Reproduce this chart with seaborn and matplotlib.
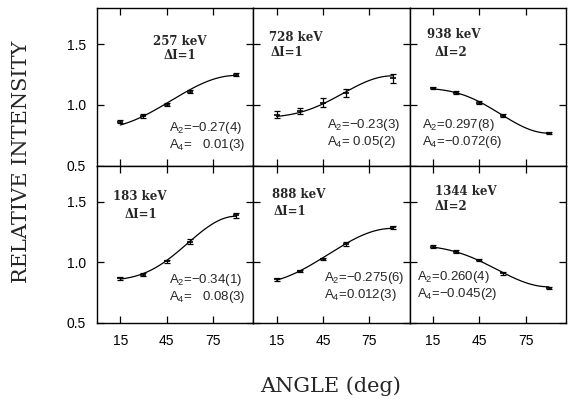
import numpy as np
import pandas as pd
import matplotlib
matplotlib.use("Agg")
import matplotlib.pyplot as plt
import seaborn as sns

# ---- data ----
angles = [15, 30, 45, 60, 90]
energies = ["257 keV", "728 keV", "938 keV", "183 keV", "888 keV", "1344 keV"]
delta_i = ["ΔI=1", "ΔI=1", "ΔI=2", "ΔI=1", "ΔI=1", "ΔI=2"]
y_257 = [0.86, 0.91, 1.00, 1.11, 1.25]
y_728 = [0.92, 0.95, 1.02, 1.10, 1.22]
y_938 = [1.14, 1.10, 1.02, 0.91, 0.77]
y_183 = [0.87, 0.90, 1.01, 1.17, 1.39]
y_888 = [0.86, 0.93, 1.03, 1.15, 1.29]
y_1344 = [1.13, 1.09, 1.02, 0.91, 0.79]
e_257 = [0.012, 0.018, 0.012, 0.012, 0.015]
e_728 = [0.03, 0.025, 0.035, 0.035, 0.035]
e_938 = [0.012, 0.012, 0.01, 0.012, 0.01]
e_183 = [0.012, 0.015, 0.012, 0.02, 0.02]
e_888 = [0.01, 0.01, 0.01, 0.015, 0.012]
e_1344 = [0.01, 0.01, 0.01, 0.01, 0.008]
a2_vals = [-0.27, -0.23, 0.297, -0.34, -0.275, 0.260]
a4_vals = [0.01, 0.05, -0.072, 0.08, 0.012, -0.045]
a2_text = ["A$_2$=−0.27(4)", "A$_2$=−0.23(3)", "A$_2$=0.297(8)",
           "A$_2$=−0.34(1)", "A$_2$=−0.275(6)", "A$_2$=0.260(4)"]
a4_text = ["A$_4$=   0.01(3)", "A$_4$= 0.05(2)", "A$_4$=−0.072(6)",
           "A$_4$=   0.08(3)", "A$_4$=0.012(3)", "A$_4$=−0.045(2)"]
x_ticks = [15, 45, 75]
y_ticks = [0.5, 1.0, 1.5]
y_tick_labels = ["0.5", "1.0", "1.5"]

ys = [y_257, y_728, y_938, y_183, y_888, y_1344]
es = [e_257, e_728, e_938, e_183, e_888, e_1344]

sns.set_theme(style="ticks")
plt.rcParams["font.family"] = ["Liberation Sans", "DejaVu Sans"]
plt.rcParams["mathtext.fontset"] = "custom"
plt.rcParams["mathtext.rm"] = "Liberation Sans"
plt.rcParams["mathtext.it"] = "Liberation Sans"

fig = plt.figure(figsize=(5.68, 3.99), dpi=100)
left, right, top, bottom = 97/568, 566/568, 1-8/399, 1-323/399
gs = fig.add_gridspec(2, 3, left=left, right=right, top=top, bottom=bottom,
                      wspace=0, hspace=0)

# label positions (axes fraction) for each panel
lab_pos = [(0.53, 0.785, "center"), (0.10, 0.81, "left"), (0.11, 0.83, "left"),
           (0.10, 0.80, "left"), (0.12, 0.815, "left"), (0.16, 0.834, "left")]
di_pos = [(0.53, 0.70, "center"), (0.11, 0.715, "left"), (0.157, 0.715, "left"),
          (0.176, 0.69, "left"), (0.127, 0.707, "left"), (0.16, 0.74, "left")]
a_pos = [(0.46, 0.24), (0.47, 0.26), (0.078, 0.26), (0.46, 0.274), (0.45, 0.287),
         (0.046, 0.293)]


def P2(c):
    return 0.5 * (3 * c**2 - 1)


def P4(c):
    return (35 * c**4 - 30 * c**2 + 3) / 8


for i in range(6):
    ax = fig.add_subplot(gs[i // 3, i % 3])
    df = pd.DataFrame({"angle": angles, "intensity": ys[i], "err": es[i]})
    # fit curve W = A0 (1 + A2 P2 + A4 P4) with the quoted coefficients
    th = np.linspace(angles[0], angles[-1], 200)
    def shape(a):
        c = np.cos(np.radians(np.asarray(a, float)))
        return 1 + a2_vals[i] * P2(c) + a4_vals[i] * P4(c)
    f = shape(angles)
    a0 = np.sum(np.array(ys[i]) * f) / np.sum(f * f)
    fit = pd.DataFrame({"angle": th, "intensity": a0 * shape(th)})
    sns.lineplot(data=fit, x="angle", y="intensity", ax=ax, color="black", lw=0.9)
    ax.errorbar(df["angle"], df["intensity"], yerr=df["err"], fmt="none",
                ecolor="black", elinewidth=0.9, capsize=2.5, capthick=0.9)
    ax.plot(df["angle"], df["intensity"], ls="none", marker="_", color="black",
            ms=5, mew=1.2)

    ax.set_xlim(0, 101)
    ax.set_ylim(0.5, 1.8)
    ax.set_xticks(x_ticks)
    ax.set_yticks(y_ticks)
    ax.tick_params(direction="in", length=5, width=0.9, top=True, right=True,
                   labelsize=10, colors="black", pad=8)
    if i % 3 == 0:
        ax.set_yticklabels(y_tick_labels)
    else:
        ax.set_yticklabels([])
    if i // 3 == 1:
        ax.set_xticklabels([str(t) for t in x_ticks])
    else:
        ax.set_xticklabels([])
    ax.set_xlabel("")
    ax.set_ylabel("")
    for s in ax.spines.values():
        s.set_linewidth(1.0)
        s.set_color("black")

    x, y, ha = lab_pos[i]
    ax.text(x, y, energies[i], transform=ax.transAxes, ha=ha, va="center",
            fontsize=8.5, family="DejaVu Serif", fontweight="bold")
    x, y, ha = di_pos[i]
    ax.text(x, y, delta_i[i], transform=ax.transAxes, ha=ha, va="center",
            fontsize=8.5, family="DejaVu Serif", fontweight="bold")
    x, y = a_pos[i]
    ax.text(x, y, a2_text[i], transform=ax.transAxes, ha="left", va="center",
            fontsize=9.5)
    ax.text(x, y - 0.112, a4_text[i], transform=ax.transAxes, ha="left",
            va="center", fontsize=9.5)

fig.text(22/568, 1-162/399, "RELATIVE INTENSITY", rotation=90, ha="center",
         va="center", fontsize=15, family="DejaVu Serif")
fig.text(331/568, 1-386/399, "ANGLE (deg)", ha="center", va="center",
         fontsize=15, family="DejaVu Serif")

fig.savefig("out.png", dpi=100)
